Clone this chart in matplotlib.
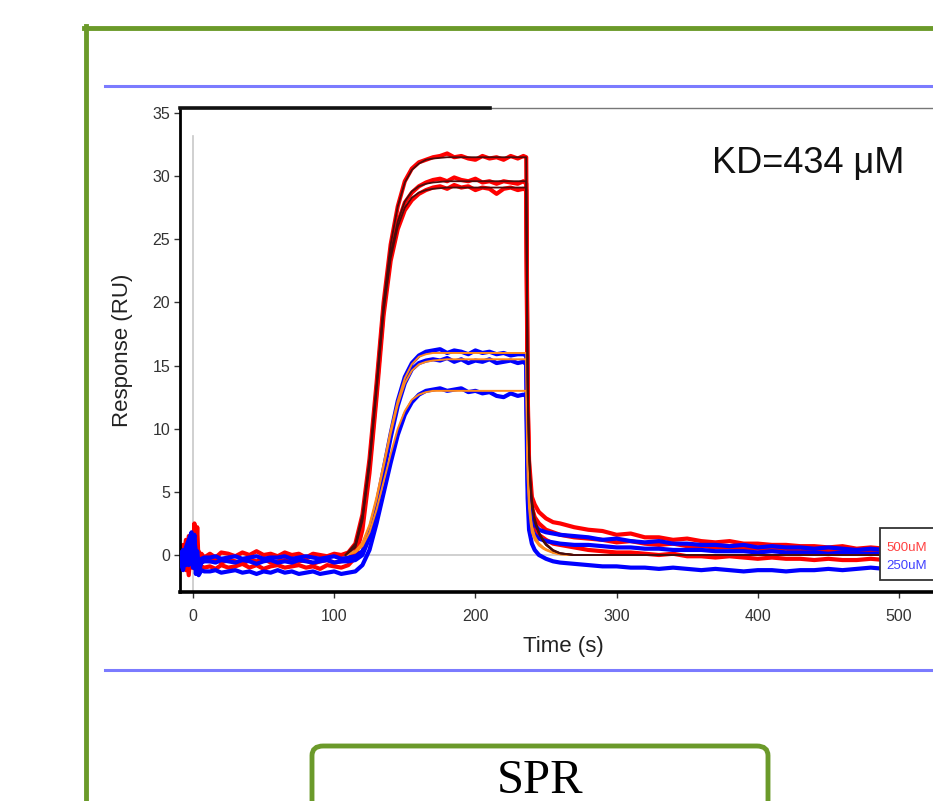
import matplotlib
matplotlib.use("Agg")
import matplotlib.pyplot as plt
from matplotlib.patches import Rectangle, FancyBboxPatch

# time points of the recorded sensorgrams (s)
t_raw = [-9, -7, -5, -3, -1, 0, 1, 2, 3, 4, 6, 8,
         12, 16, 20, 25, 30, 35, 40, 45, 50, 55, 60, 65, 70, 75, 80, 85, 90, 95, 100, 105, 110,
         115, 120, 125, 130, 135, 140, 145, 150, 155, 160, 165, 170, 175, 180, 185, 190, 195,
         200, 205, 210, 215, 220, 225, 230,
         234, 236, 237, 238, 240, 242, 245, 250, 255, 260,
         270, 280, 290, 300, 310, 320, 330, 340, 350, 360, 370, 380, 390, 400, 410, 420,
         430, 440, 450, 460, 470, 480, 490, 500]

# 500 uM runs (red)
red_1 = [0.3, -0.6, 1.2, 0.2, -1.0, 0.6, 2.5, -0.4, 2.2, -0.8, 0.1, -0.2,
         0.1, -0.2, 0.2, 0.1, -0.1, 0.2, 0.0, 0.3, 0.0, 0.1, -0.1, 0.2, 0.0, 0.1, -0.2, 0.1, 0.0, -0.1, 0.1, 0.0, 0.2,
         0.9, 3.2, 7.6, 13.6, 20.0, 24.6, 27.6, 29.6, 30.6, 31.1, 31.3, 31.5, 31.6, 31.8, 31.5, 31.6, 31.4,
         31.3, 31.6, 31.4, 31.5, 31.3, 31.6, 31.4,
         31.6, 31.5, 13.0, 7.5, 4.6, 4.0, 3.4, 2.9, 2.6, 2.5,
         2.2, 2.0, 1.9, 1.6, 1.7, 1.4, 1.4, 1.2, 1.3, 1.1, 1.0, 1.1, 0.9, 0.9, 0.8, 0.8,
         0.7, 0.7, 0.6, 0.7, 0.5, 0.6, 0.5, 0.5]
red_2 = [-0.2, 0.8, -1.2, 1.5, 0.2, -1.0, 1.0, 0.5, -1.5, 0.3, -0.6, -0.4,
         -0.5, -0.3, -0.6, -0.4, -0.5, -0.7, -0.4, -0.5, -0.3, -0.6, -0.5, -0.4, -0.6, -0.5, -0.4, -0.7, -0.5, -0.4, -0.6, -0.5, -0.4,
         0.3, 2.6, 7.0, 13.0, 19.5, 23.8, 26.3, 27.9, 28.7, 29.2, 29.5, 29.7, 29.8, 29.6, 29.9, 29.7, 29.6,
         29.8, 29.5, 29.6, 29.4, 29.6, 29.5, 29.4,
         29.6, 29.4, 12.0, 6.8, 3.8, 3.0, 2.5, 2.0, 1.8, 1.6,
         1.4, 1.3, 1.2, 1.0, 1.1, 0.9, 0.8, 0.9, 0.7, 0.7, 0.6, 0.6, 0.5, 0.5, 0.4, 0.5,
         0.3, 0.4, 0.3, 0.3, 0.2, 0.3, 0.2, 0.2]
red_3 = [0.5, -1.0, 0.2, -1.6, 1.2, -0.5, 0.4, -1.2, 0.8, -1.4, -0.9, -1.0,
         -0.9, -1.1, -0.8, -1.0, -0.9, -0.7, -1.0, -0.8, -1.1, -0.9, -0.8, -1.0, -0.9, -0.8, -1.0, -0.9, -1.1, -0.8, -0.9, -1.0, -0.8,
         -0.2, 2.0, 6.5, 12.5, 19.0, 23.3, 25.8, 27.3, 28.1, 28.6, 28.9, 29.1, 29.2, 29.0, 29.3, 29.1, 29.2,
         28.9, 29.1, 29.0, 28.6, 29.0, 29.1, 28.9,
         29.0, 28.9, 11.0, 6.0, 3.0, 2.2, 1.6, 1.2, 0.9, 0.8,
         0.6, 0.4, 0.3, 0.2, 0.2, 0.1, 0.0, 0.1, -0.1, -0.1, -0.2, -0.1, -0.2, -0.3, -0.2, -0.3,
         -0.3, -0.4, -0.3, -0.4, -0.4, -0.3, -0.4, -0.4]

# 250 uM runs (blue)
blue_1 = [0.2, -0.5, 0.6, 1.2, 1.8, 0.5, 1.6, -0.6, 0.3, -0.8, -0.3, -0.2,
          -0.2, -0.1, -0.3, -0.2, -0.1, -0.3, -0.2, -0.1, -0.3, -0.2, -0.2, -0.1, -0.3, -0.2, -0.1, -0.2, -0.3, -0.2, -0.1, -0.3, -0.2,
          -0.1, 0.3, 1.8, 4.0, 6.8, 9.6, 12.2, 14.1, 15.2, 15.8, 16.1, 16.2, 16.3, 16.0, 16.2, 16.1, 15.9,
          16.2, 16.0, 16.1, 15.9, 16.0, 15.8, 15.9,
          15.9, 15.8, 7.0, 4.2, 2.8, 2.4, 2.0, 1.8, 1.7, 1.6,
          1.5, 1.4, 1.2, 1.3, 1.1, 1.0, 1.1, 0.9, 0.9, 0.8, 0.8, 0.7, 0.8, 0.6, 0.7, 0.6,
          0.6, 0.5, 0.6, 0.5, 0.4, 0.5, 0.4, 0.4]
blue_2 = [-0.3, 0.4, -0.8, 0.9, 1.5, -0.2, 1.2, 0.2, -0.9, -1.3, -0.6, -0.5,
          -0.5, -0.6, -0.4, -0.5, -0.6, -0.4, -0.5, -0.7, -0.5, -0.4, -0.6, -0.5, -0.6, -0.4, -0.5, -0.6, -0.5, -0.4, -0.6, -0.5, -0.5,
          -0.4, 0.0, 1.4, 3.7, 6.5, 9.3, 11.8, 13.6, 14.7, 15.2, 15.4, 15.5, 15.4, 15.6, 15.3, 15.5, 15.2,
          15.4, 15.3, 15.5, 15.2, 15.3, 15.4, 15.2,
          15.3, 15.1, 6.0, 3.4, 2.0, 1.6, 1.3, 1.1, 1.0, 0.9,
          0.8, 0.8, 0.7, 0.6, 0.6, 0.5, 0.5, 0.4, 0.4, 0.4, 0.3, 0.3, 0.3, 0.2, 0.3, 0.2,
          0.2, 0.2, 0.1, 0.2, 0.1, 0.1, 0.1, 0.0]
blue_3 = [-0.5, -1.2, 0.3, -0.8, 0.9, -1.0, 0.2, -1.5, -0.6, -1.6, -1.2, -1.3,
          -1.3, -1.2, -1.4, -1.3, -1.2, -1.4, -1.3, -1.5, -1.3, -1.4, -1.2, -1.4, -1.3, -1.5, -1.4, -1.3, -1.5, -1.4, -1.3, -1.5, -1.4,
          -1.3, -0.8, 0.4, 2.5, 4.9, 7.3, 9.5, 11.1, 12.1, 12.7, 13.0, 13.1, 13.2, 13.0, 13.1, 13.2, 12.9,
          13.0, 12.8, 12.9, 12.6, 12.5, 12.8, 12.6,
          12.7, 12.6, 4.5, 2.0, 0.9, 0.4, 0.0, -0.3, -0.5, -0.6,
          -0.7, -0.8, -0.9, -0.9, -1.0, -1.0, -1.1, -1.0, -1.1, -1.2, -1.1, -1.2, -1.3, -1.2, -1.2, -1.3,
          -1.2, -1.2, -1.1, -1.2, -1.1, -1.0, -1.1, -1.0]

# fitted curves
t_fit = [108, 115, 120, 125, 130, 135, 140, 145, 150, 155, 160, 165, 170, 180, 200, 220,
         236, 237, 238, 239, 240, 242, 245, 248, 250, 255, 260, 270, 300, 400, 500]
fit_red_1 = [0, 0.9, 3.2, 7.6, 13.6, 20.0, 24.6, 27.6, 29.5, 30.5, 31.0, 31.3, 31.4, 31.5, 31.5, 31.5,
             31.5, 14.0, 8.5, 6.0, 4.4, 2.9, 1.8, 1.2, 0.9, 0.4, 0.15, 0.0, 0.0, 0.0, 0.0]
fit_red_2 = [0, 0.7, 2.9, 7.3, 13.3, 19.6, 23.9, 26.4, 28.0, 28.8, 29.2, 29.4, 29.5, 29.6, 29.6, 29.6,
             29.6, 13.2, 8.0, 5.6, 4.1, 2.7, 1.7, 1.1, 0.8, 0.35, 0.13, 0.0, 0.0, 0.0, 0.0]
fit_red_3 = [0, 0.6, 2.7, 7.0, 13.0, 19.3, 23.5, 26.0, 27.5, 28.3, 28.7, 28.9, 29.0, 29.1, 29.1, 29.1,
             29.1, 13.0, 7.9, 5.5, 4.0, 2.6, 1.7, 1.1, 0.8, 0.35, 0.13, 0.0, 0.0, 0.0, 0.0]
fit_blue_1 = [0, 0.3, 1.0, 2.4, 4.6, 7.2, 9.9, 12.2, 14.0, 15.1, 15.7, 15.9, 16.0, 16.0, 16.0, 16.0,
              16.0, 7.5, 4.6, 3.2, 2.3, 1.5, 0.9, 0.6, 0.45, 0.2, 0.07, 0.0, 0.0, 0.0, 0.0]
fit_blue_2 = [0, 0.3, 0.9, 2.3, 4.4, 7.0, 9.6, 11.9, 13.6, 14.6, 15.1, 15.3, 15.4, 15.5, 15.5, 15.5,
              15.5, 7.3, 4.4, 3.1, 2.2, 1.4, 0.9, 0.6, 0.45, 0.2, 0.07, 0.0, 0.0, 0.0, 0.0]
fit_blue_3 = [0, 0.2, 0.7, 1.8, 3.6, 5.8, 8.0, 10.0, 11.4, 12.3, 12.7, 12.9, 13.0, 13.0, 13.0, 13.0,
              13.0, 6.1, 3.7, 2.6, 1.8, 1.2, 0.75, 0.5, 0.38, 0.17, 0.06, 0.0, 0.0, 0.0, 0.0]

x_ticks = [0, 100, 200, 300, 400, 500]
y_ticks = [0, 5, 10, 15, 20, 25, 30, 35]
legend_labels = ["500uM", "250uM"]
kd_text = "KD=434 \u03bcM"

narrow = ["Liberation Sans Narrow", "Liberation Sans", "DejaVu Sans"]
plt.rcParams["font.family"] = narrow

W, H = 933, 801
fig = plt.figure(figsize=(W / 100, H / 100), dpi=100)

# axes placed in pixel terms, running off the right edge like the screenshot
ax_l, ax_b, ax_t = 180, 592, 108
x_lo, x_hi = -9.2, 540
px_per_s = 1.412
ax_w = (x_hi - x_lo) * px_per_s
ax = fig.add_axes([ax_l / W, 1 - ax_b / H, ax_w / W, (ax_b - ax_t) / H])
ax.set_xlim(x_lo, x_hi)
ax.set_ylim(-2.93, 35.4)

# reference lines
ax.axhline(0, color="#c8c8c8", lw=1.2, zorder=1)
ax.plot([0, 0], [-2.93, 33.2], color="#c8c8c8", lw=1.2, zorder=1)

for y in [red_1, red_2, red_3]:
    ax.plot(t_raw, y, color="#ff0000", lw=3.0, zorder=2, solid_joinstyle="round")
for y in [blue_1, blue_2, blue_3]:
    ax.plot(t_raw, y, color="#0000ff", lw=3.0, zorder=3, solid_joinstyle="round")
for y in [fit_blue_1, fit_blue_2, fit_blue_3]:
    ax.plot(t_fit, y, color="#ff8a1c", lw=1.4, zorder=4)
for y in [fit_red_1, fit_red_2, fit_red_3]:
    ax.plot(t_fit, y, color="#4a0c0c", lw=1.3, zorder=5)

ax.spines["right"].set_visible(False)
ax.spines["left"].set_linewidth(2.0)
ax.spines["bottom"].set_linewidth(2.6)
ax.spines["top"].set_linewidth(1.0)
ax.spines["top"].set_color("#777777")
# darker start of the top frame
ax.plot([0, (490 - ax_l) / ax_w], [1, 1], transform=ax.transAxes, color="#111111",
        lw=2.6, clip_on=False, zorder=6)

ax.set_xticks(x_ticks)
ax.set_yticks(y_ticks)
ax.tick_params(axis="both", direction="out", length=4, width=1, color="#333333",
               labelcolor="#333333", labelsize=11.5)
ax.tick_params(axis="x", pad=8)
ax.tick_params(axis="y", pad=3)
ax.set_xlabel("Time (s)", fontsize=16, color="#222222", labelpad=6)
ax.set_ylabel("Response (RU)", fontsize=16, color="#222222", labelpad=14)
ax.xaxis.set_label_coords((563 - ax_l) / ax_w, -0.09)

# KD annotation
fig.text(712 / W, 1 - 173 / H, kd_text, fontsize=26, family=["Liberation Sans", "DejaVu Sans"],
         color="#111111", va="baseline", ha="left")

# legend box at the right edge
fig.patches.append(Rectangle((880 / W, 1 - 580 / H), 70 / W, 52 / H, transform=fig.transFigure,
                             facecolor="white", edgecolor="#333333", lw=1.3, zorder=10))
fig.text(886 / W, 1 - 548 / H, legend_labels[0], fontsize=9.5, color="#ff4040",
         va="center", ha="left", zorder=11)
fig.text(886 / W, 1 - 566 / H, legend_labels[1], fontsize=9.5, color="#4040ff",
         va="center", ha="left", zorder=11)

# slide decorations around the plot
green = "#6b9a2a"
fig.add_artist(plt.Line2D([86 / W, 86 / W], [0, 1 - 26 / H], color=green, lw=3.5))
fig.add_artist(plt.Line2D([84 / W, 1], [1 - 28 / H, 1 - 28 / H], color=green, lw=3.5))
for yy in [86, 670]:
    fig.add_artist(plt.Line2D([105 / W, 1], [1 - yy / H, 1 - yy / H], color="#7b7bff", lw=2.2))

fig.patches.append(FancyBboxPatch((312 / W, 1 - 830 / H), 456 / W, 84 / H,
                                  boxstyle="round,pad=0,rounding_size=0.012",
                                  transform=fig.transFigure, facecolor="white",
                                  edgecolor=green, lw=3.5))
fig.text(540 / W, 1 - 793 / H, "SPR", fontsize=35, family=["Liberation Serif", "DejaVu Serif"],
         color="black", ha="center", va="baseline")

fig.savefig("out.png", dpi=100)
